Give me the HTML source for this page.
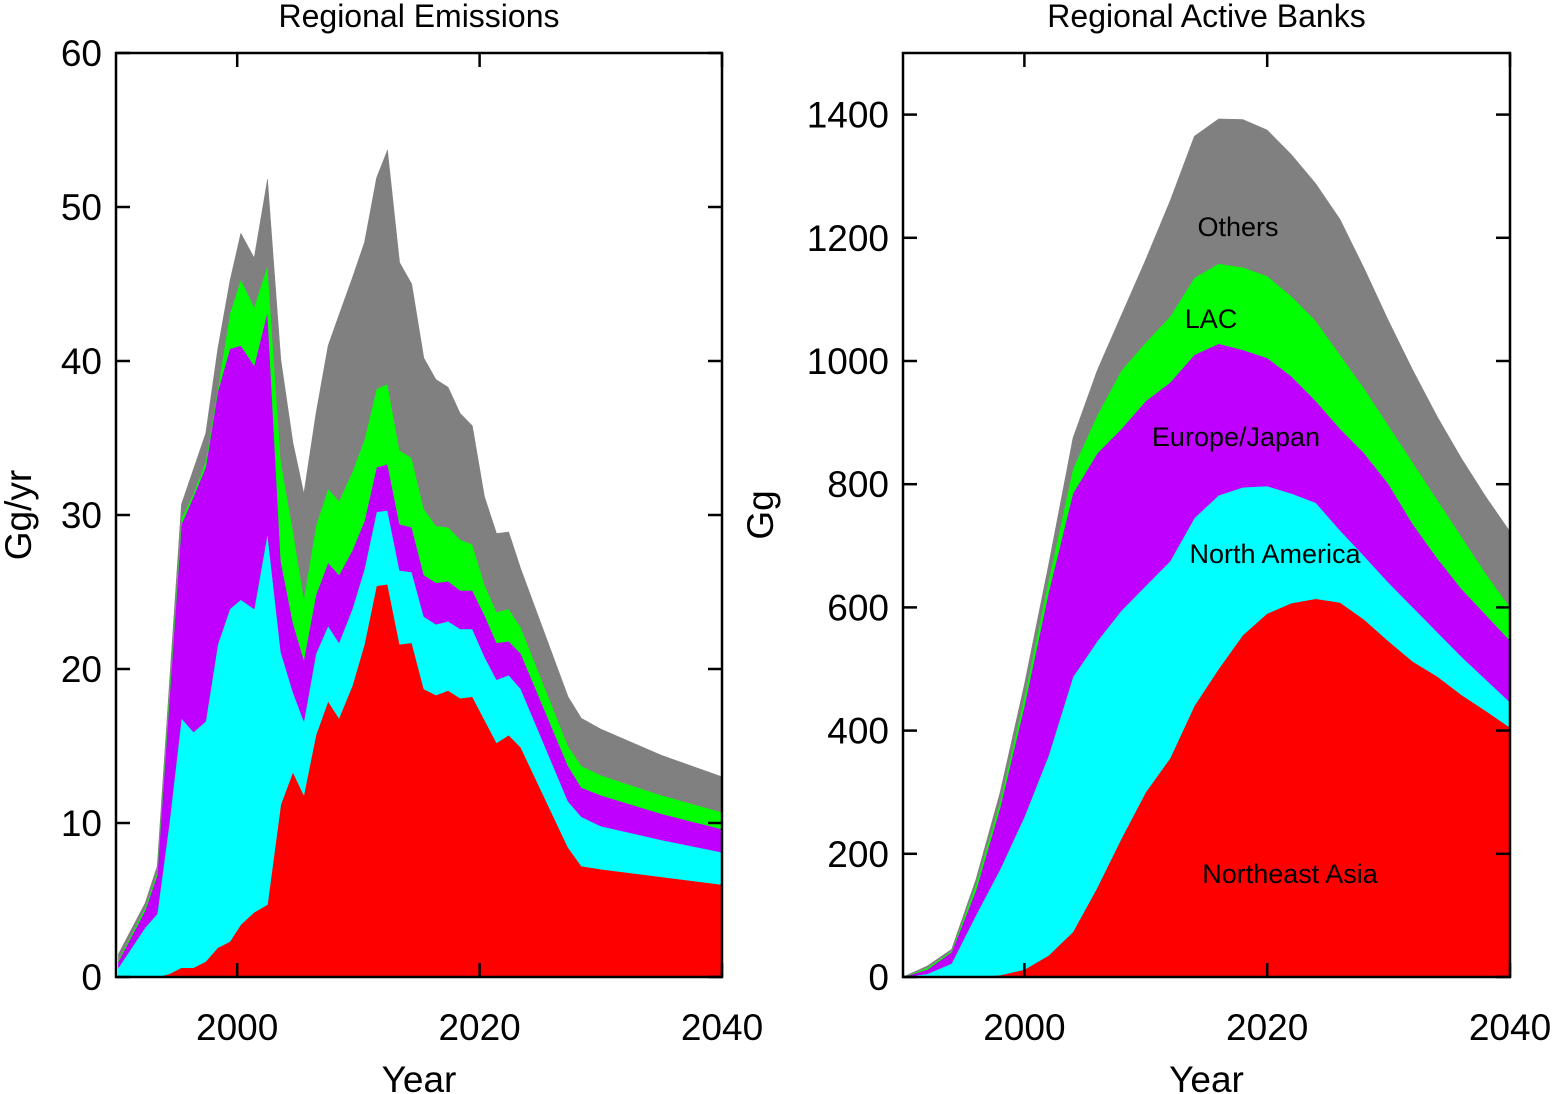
<!DOCTYPE html>
<html><head><meta charset="utf-8"><style>
html,body{margin:0;padding:0;background:#fff;}
svg{display:block;font-family:"Liberation Sans",Arial,sans-serif;}
</style></head><body>
<svg id="root" width="1554" height="1094" viewBox="0 0 1554 1094" xmlns="http://www.w3.org/2000/svg"></svg>
<script>
// ---- Left chart data: Regional Emissions (Gg/yr) ----
const emisYears = [1990.2,1992.4,1993.4,1994.4,1995.4,1996.4,1997.4,1998.4,1999.4,2000.3,2001.4,2002.5,2003.6,2004.6,2005.5,2006.5,2007.5,2008.4,2009.5,2010.5,2011.5,2012.4,2013.4,2014.4,2015.4,2016.4,2017.4,2018.4,2019.4,2020.4,2021.4,2022.4,2023.4,2027.3,2028.4,2030,2035,2040];
const emisNortheastAsia = [0,0,0,0.2,0.6,0.6,1.0,1.9,2.3,3.4,4.2,4.7,11.2,13.3,11.8,15.7,17.9,16.8,18.9,21.6,25.4,25.5,21.6,21.7,18.7,18.3,18.6,18.1,18.2,16.7,15.2,15.7,14.9,8.4,7.2,7.0,6.5,6.0];
const emisNorthAmerica = [0.6,3.2,4.1,9.8,16.2,15.3,15.6,19.7,21.6,21.1,19.7,24.1,9.9,5.2,4.8,5.3,4.9,4.9,5.0,4.9,4.8,4.8,4.8,4.6,4.7,4.6,4.5,4.5,4.4,4.1,4.1,3.9,3.8,3.0,3.2,2.8,2.4,2.1];
const emisEuropeJapan = [0.4,1.1,2.5,8.0,12.6,15.3,16.5,16.4,16.9,16.5,15.8,14.4,5.9,4.5,4.0,3.8,4.1,4.4,3.8,3.1,2.9,3.0,3.0,2.9,2.7,2.7,2.6,2.5,2.5,2.7,2.4,2.2,2.3,2.3,1.9,2.0,1.7,1.5];
const emisLAC = [0.1,0.2,0.2,0.5,0.4,0.2,0.4,0.2,2.3,4.3,3.8,3.0,6.5,6.0,4.0,4.5,4.8,4.8,5.1,5.3,5.1,5.2,4.8,4.5,4.3,3.7,3.5,3.3,3.0,2.0,2.0,2.1,1.7,1.3,1.4,1.3,1.2,1.1];
const emisOthers = [0.4,0.3,0.4,0.5,0.9,1.6,1.8,2.6,2.1,3.0,3.2,5.6,6.6,5.7,6.8,7.3,9.3,12.1,12.6,12.8,13.7,15.2,12.2,11.3,9.8,9.5,9.1,8.2,7.7,5.7,5.1,5.0,3.8,3.2,3.1,3.0,2.6,2.3];
const emisYTicks = [0,10,20,30,40,50,60];
const xTicks = [2000,2020,2040];

// ---- Right chart data: Regional Active Banks (Gg) ----
const bankYears = [1990,1992,1994,1996,1998,2000,2002,2004,2006,2008,2010,2012,2014,2016,2018,2020,2022,2024,2026,2028,2030,2032,2034,2036,2038,2040];
const bankNortheastAsia = [0,0,0,0,3,12,35,73,145,225,300,355,440,500,555,590,607,614,608,580,545,512,488,458,432,405];
const bankNorthAmerica = [0,5,22,100,172,248,325,414,400,370,335,320,305,282,240,207,178,156,117,103,95,88,72,62,51,41];
const bankEuropeJapan = [0,7,18,40,100,180,265,298,305,295,300,290,265,246,223,208,190,165,165,167,160,135,120,110,105,100];
const bankLAC = [0,3,2,10,10,15,20,40,62,95,95,107,125,130,134,133,130,130,120,105,95,100,95,85,67,54];
const bankOthers = [0,3,3,8,15,20,25,50,73,90,135,188,230,235,240,237,230,223,220,195,170,150,135,127,125,123];
const bankYTicks = [0,200,400,600,800,1000,1200,1400];

const regionNames = ['northeast-asia','north-america','europe-japan','lac','others'];
const regionColors = ['#ff0000','#00ffff','#bf00ff','#00ff00','#808080'];

const NS='http://www.w3.org/2000/svg';
const root=document.getElementById('root');
function mk(tag,attrs,parent){const e=document.createElementNS(NS,tag);for(const k in attrs)e.setAttribute(k,attrs[k]);(parent||root).appendChild(e);return e;}

function drawChart(cfg){
  const g=mk('g',{});
  
  
  const L=cfg.left,R=cfg.right,T=53,B=977;
  const xs=v=>L+(v-1990)/(2040-1990)*(R-L);
  const ys=v=>B-(v-cfg.ymin)/(cfg.ymax-cfg.ymin)*(B-T);
  let base=cfg.years.map(()=>0);
  cfg.series.forEach((s,i)=>{
    const top=base.map((b,j)=>b+s[j]);
    let d='M'+cfg.years.map((y,j)=>xs(y).toFixed(2)+','+ys(top[j]).toFixed(2)).join(' L');
    for(let j=cfg.years.length-1;j>=0;j--) d+=' L'+xs(cfg.years[j]).toFixed(2)+','+ys(base[j]).toFixed(2);
    d+=' Z';
    const p=mk('path',{d:d,fill:regionColors[i],stroke:regionColors[i],'stroke-width':'0.5','stroke-linejoin':'round'},g);
    
    
    base=top;
  });
  const fr=mk('rect',{x:L,y:T,width:R-L,height:B-T,fill:'none',stroke:'#000','stroke-width':'2.5'},g);
  
  
  cfg.yticks.forEach(t=>{
    const y=ys(t);
    mk('line',{x1:L,y1:y,x2:L+14,y2:y,stroke:'#000','stroke-width':'2.5'},g);
    mk('line',{x1:R,y1:y,x2:R-14,y2:y,stroke:'#000','stroke-width':'2.5'},g);
    const tx=mk('text',{x:L-14,y:y+13,'text-anchor':'end','font-size':'37'},g);
    tx.textContent=t;
    
    
  });
  xTicks.forEach(t=>{
    const x=xs(t);
    mk('line',{x1:x,y1:B,x2:x,y2:B-14,stroke:'#000','stroke-width':'2.5'},g);
    mk('line',{x1:x,y1:T,x2:x,y2:T+14,stroke:'#000','stroke-width':'2.5'},g);
    const tx=mk('text',{x:x,y:1040,'text-anchor':'middle','font-size':'37'},g);
    tx.textContent=t;
    
    
  });
  const ti=mk('text',{x:(L+R)/2,y:27,'text-anchor':'middle','font-size':'32'},g);
  ti.textContent=cfg.title;
  
  
  const xl=mk('text',{x:(L+R)/2,y:1092,'text-anchor':'middle','font-size':'37'},g);
  xl.textContent='Year';
  
  
  const yl=mk('text',{x:0,y:0,'text-anchor':'middle','font-size':'37',transform:'translate('+cfg.ylabelX+',515) rotate(-90)'},g);
  yl.textContent=cfg.ylabel;
  
  
  return g;
}

drawChart({name:'emissions-chart',left:116,right:722,ymin:0,ymax:60,years:emisYears,
  series:[emisNortheastAsia,emisNorthAmerica,emisEuropeJapan,emisLAC,emisOthers],
  yticks:emisYTicks,title:'Regional Emissions',ylabel:'Gg/yr',ylabelX:31});
const g2=drawChart({name:'banks-chart',left:903,right:1510,ymin:0,ymax:1500,years:bankYears,
  series:[bankNortheastAsia,bankNorthAmerica,bankEuropeJapan,bankLAC,bankOthers],
  yticks:bankYTicks,title:'Regional Active Banks',ylabel:'Gg',ylabelX:773});

const labels=[['Others',1238,236],['LAC',1211,328],['Europe/Japan',1236,446],['North America',1275,563],['Northeast Asia',1290,883]];
labels.forEach(l=>{
  const t=mk('text',{x:l[1],y:l[2],'text-anchor':'middle','font-size':'27'},g2);
  t.textContent=l[0];
  
  
});
</script>
</body></html>
